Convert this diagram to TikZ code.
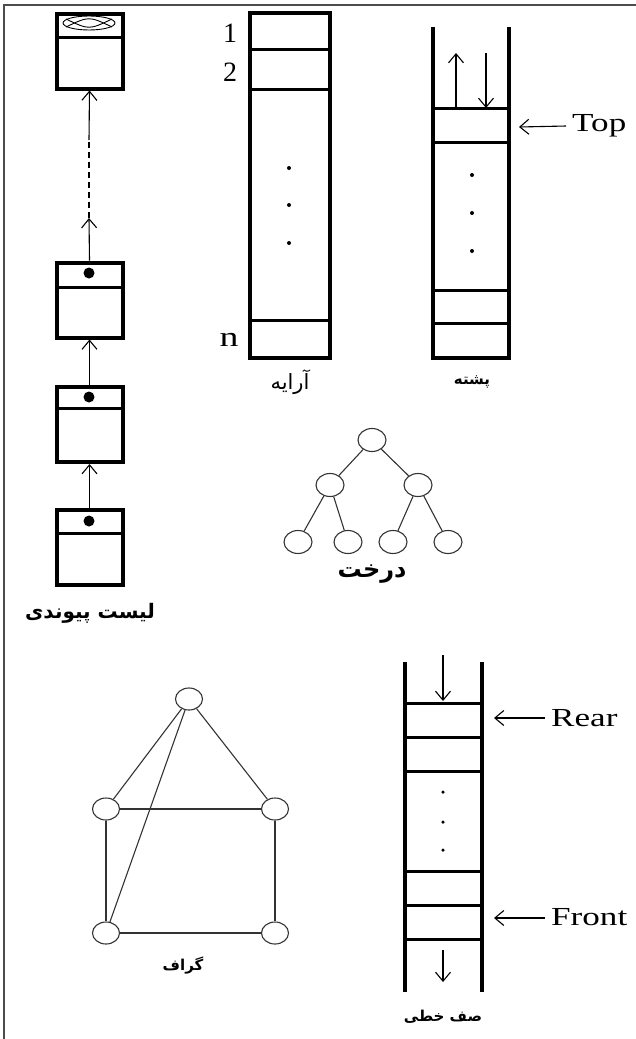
\documentclass[tikz,border=0pt]{standalone}
\usepackage{fontspec}
\usetikzlibrary{arrows.meta,shapes.geometric}
\setmainfont{Liberation Serif}
\newfontfamily\latinf[FakeStretch=1.35]{Liberation Serif}
\newfontfamily\fa[Script=Arabic]{DejaVu Sans}
\TeXXeTstate=1
\tikzset{
  thk/.style={line width=4pt},
  thn/.style={line width=3pt},
  llbox/.style={draw,line width=4pt,minimum width=66pt,minimum height=75pt,inner sep=0pt},
  arr/.style={line width=1.1pt,-{Straight Barb[length=9pt,width=15pt,line width=1.1pt]}},
  tnode/.style={draw=black!80,ellipse,line width=1.1pt,minimum width=28pt,minimum height=23pt,inner sep=0pt},
  tedge/.style={draw=black!80,line width=1.1pt},
  lab/.style={font=\fontsize{26}{28}\selectfont\latinf,inner sep=0pt},
  num/.style={font=\fontsize{28}{30}\selectfont,inner sep=0pt},
  falab/.style={inner sep=0pt},
  dotm/.style={fill=black,circle,inner sep=0pt,minimum size=4pt}
}
\begin{document}
\begin{tikzpicture}[x=1pt,y=-1pt]
\useasboundingbox (0,0) rectangle (636,1039);
% frame
\draw[black!70,line width=1.5pt] (4,1039) -- (4,5) -- (636,5);

% ---------------- linked list ----------------
\node[llbox] (L1) at (89.5,51) {};
\node[llbox] (L2) at (89.5,300) {};
\node[llbox] (L3) at (89.5,424.5) {};
\node[llbox] (L4) at (89.5,547.5) {};
\draw[thn] (56,37) -- (123,37);
\draw[thn] (56,287) -- (123,287);
\draw[thn] (56,408) -- (123,408);
\draw[thn] (56,533) -- (123,533);
\draw[line width=0.9pt] (89,23) ellipse [x radius=26, y radius=7];
\draw[line width=0.9pt] (66,19) .. controls (89,30) .. (112,19);
\draw[line width=0.9pt] (66,27) .. controls (89,16) .. (112,27);
\fill (89,273) circle (5.5);
\fill (89,397) circle (5.5);
\fill (89,521) circle (5.5);
\coordinate (m1) at (89,218);
\coordinate (m2) at (89,140);
\draw[arr] (L4.north) -- (L3.south);
\draw[arr] (L3.north) -- (L2.south);
\draw[arr] (L2.north) -- (m1);
\draw[line width=1.1pt,dash pattern=on 6pt off 4pt] (m1) -- (m2);
\draw[arr] (m2) -- (L1.south);
\node[falab,font=\fa\bfseries\fontsize{20}{22}\selectfont] (llt) at (90,613) {\beginR لیست پیوندی\endR};

% ---------------- array ----------------
\node[draw,thk,minimum width=80pt,minimum height=345pt,inner sep=0pt] (A) at (290,185.5) {};
\draw[thn] (250,49) -- (330,49);
\draw[thn] (250,89) -- (330,89);
\draw[thn] (250,320) -- (330,320);
\node[num] (a1) at (230,33) {1};
\node[num] (a2) at (230,72) {2};
\node[lab,font=\fontsize{28}{30}\selectfont\latinf] (an) at (229,340) {n};
\node[dotm] (ad1) at (289,168) {};
\node[dotm] (ad2) at (289,205) {};
\node[dotm] (ad3) at (289,243) {};
\node[falab,font=\fa\fontsize{21}{23}\selectfont] (alab) at (290,382) {\beginR آرایه\endR};

% ---------------- stack ----------------
\draw[thk] (433,27) -- (433,358) -- (509,358) -- (509,27);
\draw[thn] (433,108) -- (509,108);
\draw[thn] (433,142) -- (509,142);
\draw[thn] (433,290) -- (509,290);
\draw[thn] (433,323) -- (509,323);
\coordinate (su0) at (456,108);
\coordinate (su1) at (456,53);
\coordinate (sd0) at (486,53);
\coordinate (sd1) at (486,108);
\draw[arr] (su0) -- (su1);
\draw[arr] (sd0) -- (sd1);
\node[lab,anchor=west] (top) at (572,126) {Top};
\coordinate (toptip) at (519,127);
\draw[arr] (top.west) ++(-6,0) coordinate (topst) (topst) -- (toptip);
\node[dotm] (sd1d) at (472,175) {};
\node[dotm] (sd2d) at (472,213) {};
\node[dotm] (sd3d) at (472,251) {};
\node[falab,font=\fa\bfseries\fontsize{15}{17}\selectfont] (slab) at (472,382) {\beginR پشته\endR};

% ---------------- tree ----------------
\node[tnode] (t0) at (372,440) {};
\node[tnode] (t1) at (330,485) {};
\node[tnode] (t2) at (418,485) {};
\node[tnode] (t3) at (298,542) {};
\node[tnode] (t4) at (348,542) {};
\node[tnode] (t5) at (393,542) {};
\node[tnode] (t6) at (448,542) {};
\draw[tedge] (t0) -- (t1);
\draw[tedge] (t0) -- (t2);
\draw[tedge] (t1) -- (t3);
\draw[tedge] (t1) -- (t4);
\draw[tedge] (t2) -- (t5);
\draw[tedge] (t2) -- (t6);
\node[falab,font=\fa\bfseries\fontsize{24}{26}\selectfont] (tlab) at (372,574) {\beginR درخت\endR};

% ---------------- graph ----------------
\node[tnode,minimum width=27pt,minimum height=22pt] (g0) at (189,699) {};
\node[tnode,minimum width=27pt,minimum height=22pt] (g1) at (106,809) {};
\node[tnode,minimum width=27pt,minimum height=22pt] (g2) at (275,809) {};
\node[tnode,minimum width=27pt,minimum height=22pt] (g3) at (106,933) {};
\node[tnode,minimum width=27pt,minimum height=22pt] (g4) at (275,933) {};
\draw[tedge] (g0) -- (g1);
\draw[tedge] (g0) -- (g2);
\draw[tedge] (g0) -- (g3);
\draw[tedge] (g1) -- (g2);
\draw[tedge] (g1) -- (g3);
\draw[tedge] (g2) -- (g4);
\draw[tedge] (g3) -- (g4);
\node[falab,font=\fa\bfseries\fontsize{15}{17}\selectfont] (glab) at (183,965) {\beginR گراف\endR};

% ---------------- queue ----------------
\draw[thk] (405,662) -- (405,992);
\draw[thk] (482,662) -- (482,992);
\draw[thn] (405,703) -- (482,703);
\draw[thn] (405,737) -- (482,737);
\draw[thn] (405,771) -- (482,771);
\draw[thn] (405,871) -- (482,871);
\draw[thn] (405,905) -- (482,905);
\draw[thn] (405,939) -- (482,939);
\coordinate (qi0) at (443,655);
\coordinate (qi1) at (443,701);
\coordinate (qo0) at (443,950);
\coordinate (qo1) at (443,982);
\draw[arr] (qi0) -- (qi1);
\draw[arr] (qo0) -- (qo1);
\node[lab,anchor=west] (rear) at (551,718) {Rear};
\node[lab,anchor=west] (front) at (551,917) {Front};
\coordinate (rtip) at (494,718);
\coordinate (ftip) at (494,918);
\draw[arr] (545,718) coordinate (rst) (rst) -- (rtip);
\draw[arr] (545,918) coordinate (fst) (fst) -- (ftip);
\node[dotm,minimum size=3.5pt] (qd1) at (443,792) {};
\node[dotm,minimum size=3.5pt] (qd2) at (443,822) {};
\node[dotm,minimum size=3.5pt] (qd3) at (443,850) {};
\node[falab,font=\fa\bfseries\fontsize{15}{17}\selectfont] (qlab) at (443,1017) {\beginR صف خطی\endR};
\end{tikzpicture}
\end{document}
